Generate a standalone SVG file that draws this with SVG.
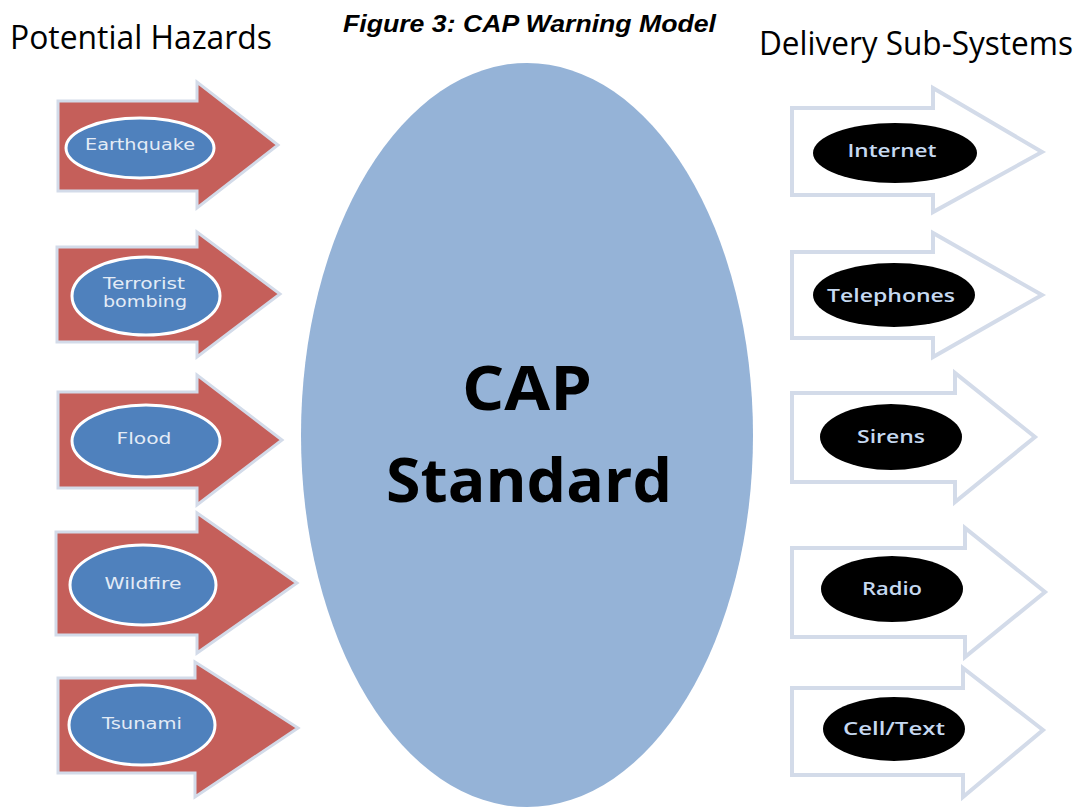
<svg xmlns="http://www.w3.org/2000/svg" width="1086" height="808" viewBox="0 0 1086 808">
<style>
.hdr{font-family:"Open Sans","Liberation Sans",sans-serif;font-size:33px;fill:#000}
.ttl{font-family:"Liberation Sans Narrow","Liberation Sans",Arial,sans-serif;font-size:24px;font-weight:bold;font-style:italic;fill:#000}
.red{fill:#c55f5a;stroke:#d3dbe9;stroke-width:3;stroke-linejoin:miter}
.wht{fill:#ffffff;stroke:#d3dbe9;stroke-width:4;stroke-linejoin:miter}
.blu{fill:#4f81bd;stroke:#ffffff;stroke-width:3}
.blk{fill:#000000}
.lt{font-family:"DejaVu Sans",Verdana,sans-serif;font-size:15px;fill:#e3ebf6;text-anchor:middle;dominant-baseline:central}
.rt{font-family:"Open Sans","DejaVu Sans",sans-serif;font-size:18px;font-weight:600;fill:#c6d9f1;text-anchor:middle;dominant-baseline:central}
.cap{font-family:"Open Sans","DejaVu Sans",sans-serif;font-weight:bold;font-size:60px;fill:#000;text-anchor:middle}
</style>
<rect width="1086" height="808" fill="#ffffff"/>
<text class="hdr" x="10" y="49" textLength="262" lengthAdjust="spacingAndGlyphs">Potential Hazards</text>
<text class="ttl" x="343" y="32" textLength="373" lengthAdjust="spacingAndGlyphs">Figure 3: CAP Warning Model</text>
<text class="hdr" x="759" y="55" textLength="314" lengthAdjust="spacingAndGlyphs">Delivery Sub-Systems</text>

<g id="cap">
<ellipse cx="527" cy="435" rx="226" ry="372" fill="#95b3d7"/>
<text class="cap" x="527" y="410" textLength="130" lengthAdjust="spacingAndGlyphs">CAP</text>
<text class="cap" x="529" y="502" textLength="286" lengthAdjust="spacingAndGlyphs">Standard</text>
</g>

<g id="connectors">
<g id="h1"><polygon class="red" points="58,101 197,101 197,82 278,145 197,208 197,191 58,191"/></g>
<g id="h2"><polygon class="red" points="57,247 197,247 197,232 280,294 197,357 197,342 57,342"/></g>
<g id="h3"><polygon class="red" points="58,392 197,392 197,375 282,440 197,505 197,488 58,488"/></g>
<g id="h4"><polygon class="red" points="56,532 197,532 197,513 297,583 197,653 197,635 56,635"/></g>
<g id="h5"><polygon class="red" points="58,678 195,678 195,662 298,728 195,797 195,773 58,773"/></g>
<g id="d1"><polygon class="wht" points="792,108 933,108 933,88 1042,152 933,212 933,195 792,195"/></g>
<g id="d2"><polygon class="wht" points="792,252 933,252 933,233 1042,295 933,357 933,338 792,338"/></g>
<g id="d3"><polygon class="wht" points="792,393 955,393 955,373 1035,437 955,502 955,482 792,482"/></g>
<g id="d4"><polygon class="wht" points="792,548 965,548 965,528 1045,592 965,657 965,637 792,637"/></g>
<g id="d5"><polygon class="wht" points="792,688 963,688 963,668 1043,730 963,797 963,775 792,775"/></g>
</g>

<g id="earthquake"><ellipse class="blu" cx="140" cy="148" rx="74" ry="30"/><text class="lt" x="140" y="145" textLength="110" lengthAdjust="spacingAndGlyphs">Earthquake</text></g>
<g id="terrorist"><ellipse class="blu" cx="146" cy="296" rx="74" ry="39"/><text class="lt" x="144" y="284" textLength="82" lengthAdjust="spacingAndGlyphs">Terrorist</text><text class="lt" x="145" y="302" textLength="84" lengthAdjust="spacingAndGlyphs">bombing</text></g>
<g id="flood"><ellipse class="blu" cx="146" cy="441" rx="74" ry="36"/><text class="lt" x="144" y="439" textLength="55" lengthAdjust="spacingAndGlyphs">Flood</text></g>
<g id="wildfire"><ellipse class="blu" cx="143" cy="585" rx="73" ry="40"/><text class="lt" x="143" y="584" textLength="77" lengthAdjust="spacingAndGlyphs">Wildfire</text></g>
<g id="tsunami"><ellipse class="blu" cx="142" cy="725" rx="73" ry="40"/><text class="lt" x="142" y="724" textLength="80" lengthAdjust="spacingAndGlyphs">Tsunami</text></g>

<g id="internet"><ellipse class="blk" cx="895" cy="153" rx="82" ry="30"/><text class="rt" x="892" y="150" textLength="89" lengthAdjust="spacingAndGlyphs">Internet</text></g>
<g id="telephones"><ellipse class="blk" cx="894" cy="295" rx="81" ry="32"/><text class="rt" x="891" y="295" textLength="128" lengthAdjust="spacingAndGlyphs">Telephones</text></g>
<g id="sirens"><ellipse class="blk" cx="891" cy="437" rx="71" ry="33"/><text class="rt" x="891" y="436" textLength="68" lengthAdjust="spacingAndGlyphs">Sirens</text></g>
<g id="radio"><ellipse class="blk" cx="892" cy="589" rx="71" ry="33"/><text class="rt" x="892" y="588" textLength="60" lengthAdjust="spacingAndGlyphs">Radio</text></g>
<g id="celltext"><ellipse class="blk" cx="894" cy="729" rx="71" ry="32"/><text class="rt" x="894" y="728" textLength="102" lengthAdjust="spacingAndGlyphs">Cell/Text</text></g>
</svg>
